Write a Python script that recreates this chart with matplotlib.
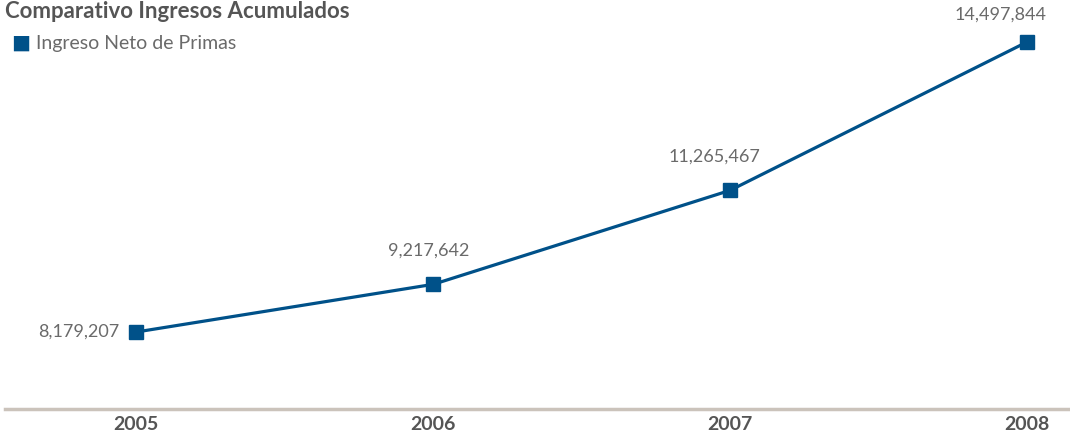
import matplotlib.pyplot as plt

years = [2005, 2006, 2007, 2008]
ingreso_neto = [8179207, 9217642, 11265467, 14497844]
year_labels = ["2005", "2006", "2007", "2008"]

line_color = "#005189"
text_gray = "#6a6a6a"
title_gray = "#555555"

plt.rcParams['font.family'] = ['Lato', 'DejaVu Sans']

fig = plt.figure(figsize=(10.7, 4.33), dpi=100)
ax = fig.add_axes([0.005, 1 - 409 / 433, 0.995, 409 / 433])

ax.plot(years, ingreso_neto, color=line_color, lw=2.3, marker='s',
        markersize=10, markerfacecolor=line_color, markeredgecolor=line_color,
        zorder=3)

# value labels: first one sits left of its marker, the rest above
offsets = [(-12, 0), (-3, 24), (-11, 24), (-19, 20)]
for i, (x, y) in enumerate(zip(years, ingreso_neto)):
    dx, dy = offsets[i]
    ha = 'right' if i == 0 else 'center'
    ax.annotate(f"{y:,}", (x, y), xytext=(dx, dy), textcoords='offset points',
                ha=ha, va='center', fontsize=13, color=text_gray)

ax.set_xlim(2005 - 131 / 297, 2005 + 934 / 297)
ax.set_ylim(6501500, 15412900)

for side in ['top', 'right', 'left']:
    ax.spines[side].set_visible(False)
ax.spines['bottom'].set_color('#cbc3bb')
ax.spines['bottom'].set_linewidth(2.5)
ax.set_yticks([])
ax.set_xticks(years)
ax.set_xticklabels(year_labels, fontsize=14, fontweight='bold', color=title_gray)
ax.tick_params(axis='x', length=0, pad=5)

fig.text(5 / 1070, 1 - 12 / 433, "Comparativo Ingresos Acumulados", fontsize=16,
         fontweight='bold', color=title_gray, va='center', ha='left')
fig.text(11 / 1070, 1 - 43 / 433, "\u25A0", fontsize=14.5, color=line_color,
         va='center', ha='left')
fig.text(36 / 1070, 1 - 43 / 433, "Ingreso Neto de Primas", fontsize=14,
         color=text_gray, va='center', ha='left')

fig.savefig("out.png", dpi=100)
